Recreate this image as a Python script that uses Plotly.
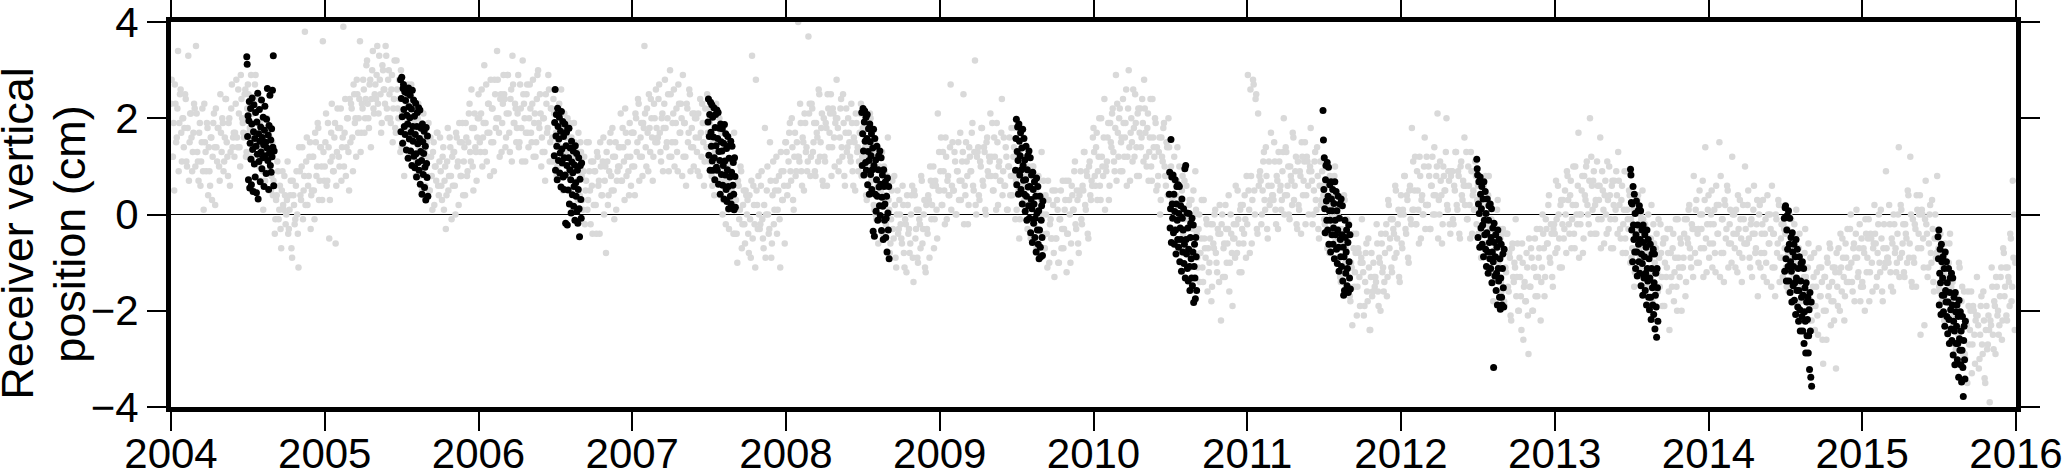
import plotly.graph_objects as go

# grey: full series, first pass (10 values per month), per year
grey_2004 = [2.8, 1.2, 0.5, 2.3, 1.6, 3.4, 1.9, 2.6, 1.1, 2.0,
             1.8, 2.4, 1.0, 3.3, 1.5, 2.1, 0.9, 1.7, 2.2, 3.5,
             1.3, 0.7, 1.9, 1.1, 2.2, 0.1, 1.5, 0.9, 1.8, 1.4,
             0.6, 1.6, 1.2, 2.1, 0.2, 1.4, 1.8, 1.0, 2.5, 1.3,
             1.9, 1.1, 2.4, 1.5, 0.8, 2.0, 1.3, 2.7, 1.6, 1.2,
             2.3, 1.6, 2.6, 1.4, 2.9, 2.0, 1.7, 2.5, 1.2, 2.2,
             2.5, 1.8, 2.9, 2.1, 1.6, 2.7, 2.2, 1.5, 2.4, 1.9,
             1.6, 0.9, 1.4, 0.7, 1.8, 1.1, 0.5, 1.3, 0.8, 0.4,
             0.6, -0.1, 0.4, 0.9, 0.1, -0.3, 0.5, 0.2, 0.8, -0.2,
             0.3, -0.4, 0.1, 0.7, -0.9, 0.4, -0.2, 0.6, 0.0, -1.1,
             0.9, 0.3, 1.4, 0.5, 3.8, 1.1, 0.2, 0.8, 1.5, 0.4,
             1.2, 0.5, 1.7, 0.8, 1.9, 0.3, 1.4, 1.0, 3.6, 0.7]
grey_2005 = [1.5, 0.6, 1.9, -0.5, 1.1, 2.3, 0.9, 1.6, -0.6, 1.3,
             1.8, 1.0, 2.2, 1.4, 3.9, 1.7, 0.8, 2.0, 1.3, 2.4,
             2.3, 1.6, 2.7, 1.9, 1.2, 2.5, 2.0, 3.6, 1.7, 2.2,
             2.6, 2.0, 3.1, 2.3, 1.8, 2.8, 2.4, 3.4, 2.1, 2.7,
             2.9, 2.3, 3.3, 2.5, 1.9, 3.0, 2.6, 3.5, 2.2, 2.8,
             2.5, 1.9, 2.9, 2.2, 3.2, 1.7, 2.6, 2.0, 2.4, 3.0,
             2.1, 1.5, 2.6, 1.8, 2.3, 1.3, 2.0, 2.7, 1.6, 2.2,
             1.7, 1.1, 2.0, 1.4, 0.8, 1.9, 1.2, 1.6, 0.6, 1.5,
             1.2, 0.5, 1.6, 0.8, 1.3, 0.2, 1.0, 1.7, 0.6, 1.1,
             0.9, 0.3, 1.4, 0.7, -0.3, 1.1, 0.5, 1.6, 0.8, 1.2,
             1.3, 0.6, 1.7, 1.0, 0.2, 1.5, 0.8, 1.9, 1.1, 0.4,
             1.6, 0.9, 2.1, 1.3, 2.6, 1.0, 1.8, 1.4, 0.7, 2.0]
grey_2006 = [2.0, 1.3, 2.6, 1.6, 3.1, 1.9, 1.1, 2.3, 1.7, 2.8,
             2.2, 1.5, 2.8, 1.8, 3.4, 2.0, 1.2, 2.5, 1.9, 2.9,
             2.4, 1.6, 2.9, 2.1, 1.3, 2.6, 3.3, 1.9, 2.3, 1.5,
             2.1, 1.4, 2.7, 1.8, 3.2, 2.3, 1.1, 2.5, 1.7, 2.0,
             2.2, 1.5, 2.8, 1.9, 1.2, 2.4, 3.0, 1.8, 2.1, 1.6,
             2.0, 1.3, 2.5, 1.7, 2.9, 1.1, 2.2, 1.6, 2.4, 1.9,
             1.7, 1.0, 2.2, 1.4, 2.6, 1.2, 1.9, 0.8, 1.6, 2.0,
             1.2, 0.5, 1.6, 0.9, 1.9, 0.6, 1.3, 0.3, 1.0, 1.5,
             0.8, 0.1, 1.2, 0.5, 1.5, 0.3, 0.9, -0.2, 0.6, 1.1,
             0.9, 0.2, 1.3, 0.6, -0.4, 1.0, 0.4, 1.6, 0.7, -0.8,
             1.1, 0.4, 1.5, 0.8, 1.8, 0.5, 1.2, 0.1, 0.9, 1.4,
             1.4, 0.7, 1.8, 1.1, 2.2, 0.8, 1.5, 0.4, 1.2, 1.7]
grey_2007 = [1.7, 1.0, 2.1, 1.3, 2.4, 0.7, 1.6, 1.2, 1.9, 3.5,
             1.4, 2.2, 0.9, 1.8, 2.4, 1.6, 1.2, 2.0, 2.6, 1.5,
             2.4, 1.7, 1.1, 2.1, 1.8, 2.8, 1.4, 2.0, 0.9, 3.0,
             1.2, 1.9, 2.6, 1.5, 2.2, 0.9, 2.3, 1.7, 2.0, 2.9,
             1.9, 1.2, 2.3, 1.5, 2.6, 0.9, 1.8, 1.4, 2.1, 1.6,
             1.3, 2.1, 0.8, 1.7, 2.3, 1.5, 1.1, 1.9, 2.5, 1.4,
             1.9, 1.2, 0.6, 1.6, 1.3, 2.3, 0.9, 1.5, 0.4, 1.7,
             0.0, 0.7, 1.4, 0.3, 1.0, -0.3, 1.1, 0.5, 0.8, 1.7,
             0.3, -0.4, 0.7, -0.1, 1.0, -0.7, 0.2, -0.2, 0.5, 0.0,
             -0.4, 0.4, -0.9, 3.3, 0.6, -0.2, 2.8, 0.2, 0.8, -0.3,
             0.6, -0.1, -0.7, 1.8, 0.0, 1.0, -0.4, 1.5, -0.9, 0.4,
             -0.2, 0.5, 1.2, 0.1, 0.8, -1.1, 0.9, 0.3, 0.6, 1.5]
grey_2008 = [1.3, 0.6, 1.7, 0.9, 2.0, 0.3, 1.2, 0.8, 1.5, 4.0,
             1.1, 1.9, 0.6, 1.5, 2.1, 1.3, 0.9, 3.7, 2.3, 1.2,
             2.2, 1.5, 0.9, 1.9, 1.6, 2.6, 1.2, 1.8, 0.7, 2.0,
             1.1, 1.8, 2.5, 1.4, 2.1, 0.8, 2.2, 1.6, 1.9, 2.8,
             1.8, 1.1, 2.2, 1.4, 2.5, 0.8, 1.7, 1.3, 2.0, 1.5,
             1.1, 1.9, 0.6, 1.5, 2.1, 1.3, 0.9, 1.7, 2.3, 1.2,
             1.7, 1.0, 0.4, 1.4, 1.1, 2.1, 0.7, 1.3, 0.2, 1.5,
             -0.1, 0.6, 1.3, 0.2, 0.9, -0.4, 1.0, 0.4, 0.7, 1.6,
             0.1, -0.6, 0.5, -0.3, 0.8, -0.9, 0.0, -0.4, 0.3, -0.2,
             -0.6, 0.2, -1.1, -0.2, 0.4, -0.4, -0.8, 0.0, 0.6, -1.4,
             0.4, -0.3, -0.9, 0.1, -0.2, 0.8, -0.6, 0.0, -1.1, 0.2,
             -0.4, 0.3, 1.0, -0.1, 0.6, -0.7, 0.7, 0.1, 2.1, 1.3]
grey_2009 = [0.9, 0.2, 1.3, 0.5, 1.6, -0.1, 0.8, 0.4, 2.7, 0.6,
             0.5, 1.3, 0.0, 0.9, 1.5, 0.7, 0.3, 1.1, 2.5, 0.6,
             1.5, 0.8, 0.2, 1.2, 0.9, 1.9, 0.5, 3.2, 0.0, 1.3,
             0.4, 1.1, 1.8, 0.7, 1.4, 0.1, 1.5, 0.9, 1.2, 2.1,
             1.2, 0.5, 1.6, 0.8, 1.9, 0.2, 1.1, 0.7, 2.4, 0.9,
             0.6, 1.4, 0.1, 1.0, 1.6, 0.8, 0.4, 1.2, 1.8, 0.7,
             1.2, 0.5, -0.1, 0.9, 0.6, 1.6, 0.2, 0.8, -0.3, 1.0,
             -0.4, 0.3, 1.0, -0.1, 0.6, -0.7, 0.7, 0.1, 0.4, 1.3,
             0.0, -0.7, 0.4, -0.4, 0.7, -1.0, -0.1, -0.5, 0.2, -1.3,
             -0.5, 0.3, -1.0, -0.1, 0.5, -0.3, -0.7, 0.1, 0.7, -0.4,
             0.7, 0.0, -0.6, 0.4, 0.1, 1.1, -0.3, 0.3, -0.8, 0.5,
             -0.1, 0.6, 1.3, 0.2, 0.9, -0.4, 1.0, 0.4, 0.7, 1.6]
grey_2010 = [1.3, 0.6, 1.7, 0.9, 2.0, 0.3, 1.2, 0.8, 2.4, 1.0,
             1.1, 1.9, 0.6, 1.5, 2.1, 1.3, 0.9, 2.9, 2.3, 1.2,
             2.2, 1.5, 0.9, 1.9, 1.6, 2.6, 1.2, 3.0, 0.7, 2.0,
             1.1, 1.8, 2.5, 1.4, 2.1, 0.8, 2.2, 1.6, 1.9, 2.8,
             1.7, 1.0, 2.1, 1.3, 2.4, 0.7, 1.6, 1.2, 1.9, 1.4,
             0.8, 1.6, 0.3, 1.2, 1.8, 1.0, 0.6, 1.4, 2.0, 0.9,
             1.0, 0.3, -0.3, 0.7, 0.4, 1.4, 0.0, 0.6, -0.5, 0.8,
             -0.8, -0.1, 0.6, -0.5, 0.2, -1.1, 0.3, -0.3, 0.0, 0.9,
             -0.4, -1.1, 0.0, -0.8, 0.3, -1.4, -0.5, -0.9, -0.2, -0.7,
             -1.0, -0.2, -1.5, -0.6, 0.0, -0.8, -1.2, -0.4, 0.2, -2.2,
             0.0, -0.7, -1.3, -0.3, -0.6, 0.4, -1.0, -0.4, -1.9, -0.2,
             -0.9, -0.2, 0.5, -0.6, 0.1, -1.2, 0.2, -0.4, -0.1, 0.8]
grey_2011 = [2.9, 0.1, 2.6, -0.6, 2.8, 0.5, 2.4, -0.3, 2.1, 0.8,
             0.7, 0.0, 1.1, 0.3, 1.4, -0.3, 0.6, 0.2, 1.7, 0.4,
             0.3, 1.1, -0.2, 0.7, 1.3, 0.5, 0.1, 0.9, 2.0, 0.4,
             1.3, 0.6, 0.0, 1.0, 0.7, 1.7, 0.3, 0.9, -0.2, 1.1,
             0.1, 0.8, 1.5, 0.4, 1.1, -0.2, 1.2, 0.6, 0.9, 1.8,
             0.7, 0.0, 1.1, 0.3, 1.4, -0.3, 0.6, 0.2, 0.9, 0.4,
             -0.2, 0.6, -0.7, 0.2, 0.8, 0.0, -0.4, 0.4, 1.0, -0.1,
             0.0, -0.7, -1.3, -0.3, -0.6, 0.4, -1.0, -0.4, -1.5, -0.2,
             -1.8, -1.1, -0.4, -1.5, -0.8, -2.1, -0.7, -1.3, -1.0, -0.1,
             -1.2, -1.9, -0.8, -1.6, -0.5, -2.4, -1.3, -1.7, -1.0, -1.5,
             -1.4, -0.6, -1.9, -1.0, -0.4, -1.2, -1.6, -0.8, -0.2, -1.3,
             0.2, -0.5, -1.1, -0.1, -0.4, 0.6, -0.8, -0.2, -1.3, 0.0]
grey_2012 = [-0.6, 0.1, 0.8, -0.3, 0.4, -0.9, 0.5, -0.1, 1.8, 1.1,
             0.5, -0.2, 0.9, 0.1, 1.2, -0.5, 0.4, 0.0, 1.6, 0.2,
             0.2, 1.0, -0.3, 0.6, 1.2, 0.4, 0.0, 0.8, 2.1, 0.3,
             1.1, 0.4, -0.2, 0.8, 0.5, 2.0, 0.1, 0.7, -0.4, 0.9,
             -0.1, 0.6, 1.3, 0.2, 0.9, -0.4, 1.0, 0.4, 0.7, 1.6,
             0.6, -0.1, 1.0, 0.2, 1.3, -0.4, 0.5, 0.1, 0.8, 0.3,
             -0.4, 0.4, -0.9, 0.0, 0.6, -0.2, -0.6, 0.2, 0.8, -0.3,
             -0.1, -0.8, -1.4, -0.4, -0.7, 0.3, -1.1, -0.5, -1.6, -0.3,
             -1.8, -1.1, -0.4, -1.5, -0.8, -2.1, -0.7, -1.3, -1.0, -0.1,
             -1.3, -2.0, -0.9, -1.7, -0.6, -2.6, -1.4, -1.8, -1.1, -2.9,
             -1.5, -0.7, -2.0, -1.1, -0.5, -1.3, -1.7, -0.9, -0.3, -1.4,
             0.0, -0.7, -1.3, -0.3, -0.6, 0.4, -1.0, -0.4, -1.5, -0.2]
grey_2013 = [-0.8, -0.1, 0.6, -0.5, 0.2, -1.1, 0.3, -0.3, 0.0, 0.9,
             0.3, -0.4, 0.7, -0.1, 1.0, -0.7, 0.2, -0.2, 1.7, 0.0,
             0.0, 0.8, -0.5, 0.4, 1.0, 0.2, -0.2, 2.0, 1.2, 0.1,
             0.9, 0.2, -0.4, 0.6, 0.3, 1.6, -0.1, 0.5, -0.6, 0.7,
             -0.4, 0.3, 1.0, -0.1, 0.6, -0.7, 0.7, 0.1, 0.4, 1.3,
             0.2, -0.5, 0.6, -0.2, 0.9, -0.8, 0.1, -0.3, 0.4, -0.1,
             -0.7, 0.1, -1.2, -0.3, 0.3, -0.5, -0.9, -0.1, 0.5, -0.6,
             -0.2, -0.9, -1.5, -0.5, -0.8, 0.2, -1.2, -0.6, -1.7, -0.4,
             -1.6, -0.9, -0.2, -1.3, -0.6, -1.9, -0.5, -1.1, -0.8, -2.4,
             -0.8, -1.5, -0.4, -1.2, -0.1, -2.0, -0.9, -1.3, -0.6, -1.1,
             -0.9, -0.1, -1.4, -0.5, 0.1, -0.7, -1.1, -0.3, 0.8, -0.8,
             0.3, -0.4, -1.0, 0.0, -0.3, 0.7, -0.7, 1.4, -1.2, 0.1]
grey_2014 = [-0.9, -0.2, 0.5, -0.6, 0.1, -1.2, 0.2, -0.4, 1.5, 0.8,
             -0.1, -0.8, 0.3, -0.5, 0.6, -1.1, -0.2, -0.6, 1.2, -0.4,
             -0.7, 0.1, -1.2, -0.3, 0.3, -0.5, -0.9, -0.1, 1.0, -0.6,
             0.2, -0.5, -1.1, -0.1, -0.4, 0.6, -0.8, -0.2, -1.7, 0.0,
             -1.1, -0.4, 0.3, -0.8, -0.1, -1.4, 0.0, -0.6, -0.3, 0.6,
             -0.4, -1.1, 0.0, -0.8, 0.3, -1.4, -0.5, -0.9, -0.2, -0.7,
             -1.1, -0.3, -1.6, -0.7, -0.1, -0.9, -1.3, -0.5, 0.1, -1.0,
             -0.7, -1.4, -2.0, -1.0, -1.3, -0.3, -1.7, -1.1, -2.2, -0.9,
             -2.2, -1.5, -0.8, -1.9, -1.2, -2.5, -1.1, -1.7, -1.4, -3.1,
             -1.3, -2.0, -0.9, -1.7, -0.6, -2.3, -1.4, -1.8, -1.1, -3.2,
             -1.5, -0.7, -2.0, -1.1, -0.5, -1.3, -1.7, -0.9, -0.3, -1.4,
             -0.3, -1.0, -1.6, -0.6, -0.9, 0.1, -1.3, -0.7, -1.8, -0.5]
grey_2015 = [-1.5, -0.8, -0.1, -1.2, -0.5, -1.8, -0.4, -1.0, -0.7, 0.2,
             -0.6, -1.3, -0.2, -1.0, 0.1, -1.6, -0.7, -1.1, 0.9, -0.9,
             -1.0, -0.2, -1.5, -0.6, 0.0, -0.8, -1.2, -0.4, 1.4, -0.9,
             0.1, -0.6, -1.2, -0.2, -0.5, 0.5, -0.9, 1.2, -1.4, -0.1,
             -1.0, -0.3, 0.4, -0.7, 0.0, -2.5, 0.1, -0.5, -2.3, 0.7,
             -0.4, -1.1, 0.0, -0.8, 0.3, -1.4, -0.5, -0.9, 0.8, -0.7,
             -1.6, -0.8, -2.1, -1.2, -0.6, -1.4, -1.8, -1.0, -0.4, -1.5,
             -1.4, -2.1, -2.7, -1.7, -2.0, -1.0, -2.4, -1.8, -2.9, -1.6,
             -3.0, -2.3, -1.6, -2.7, -2.0, -3.3, -1.9, -2.5, -2.2, -1.3,
             -2.3, -3.0, -1.9, -2.7, -1.6, -3.4, -2.4, -2.8, -2.1, -3.9,
             -2.3, -1.5, -2.8, -1.9, -1.3, -2.1, -2.5, -1.7, -1.1, -2.2,
             -0.8, -1.5, -2.1, -1.1, -1.4, -0.4, -1.8, 0.7, 0.0, -1.0]

# grey: second pass, the days in between
grey2_2004 = [2.3, 1.2, 1.9, 2.7, 1.5, 2.2, 0.9, 2.5, 1.7, 2.0,
              1.4, 2.5, 1.1, 1.8, 0.7, 2.1, 1.6, 1.3, 2.3, 1.0,
              2.1, 1.1, 1.7, 0.6, 1.5, 0.9, 2.3, 1.3, 1.9, 0.4,
              0.9, 1.6, 0.3, 1.9, 1.4, 2.2, 1.1, 1.8, 0.7, 1.7,
              2.0, 0.9, 1.6, 2.4, 1.2, 1.9, 0.6, 2.2, 1.4, 1.7,
              1.7, 2.8, 1.4, 2.1, 1.0, 2.4, 1.9, 1.6, 2.6, 1.3,
              2.7, 1.7, 2.3, 1.2, 2.1, 1.5, 2.9, 1.9, 2.5, 1.0,
              0.7, 1.4, 0.1, 1.7, 1.2, 2.0, 0.9, 1.6, 0.5, 1.5,
              0.7, -0.4, 0.3, 1.1, -0.1, 0.6, -0.7, 0.9, 0.1, 0.4,
              0.0, 1.1, -0.3, 0.4, -0.7, 0.7, 0.2, -0.1, 0.9, -0.4,
              1.4, 0.4, 1.0, -0.1, 0.8, 0.2, 1.6, 0.6, 1.2, -0.3,
              0.5, 1.2, -0.1, 1.5, 1.0, 1.8, 0.7, 1.4, 0.3, 1.3]
grey2_2005 = [1.0, 2.1, 0.7, 1.4, 0.3, 1.7, 1.2, 0.9, 1.9, 0.6,
              2.2, 1.2, 1.8, 0.7, 1.6, 1.0, 2.4, 1.4, 2.0, 0.5,
              1.5, 2.2, 0.9, 2.5, 2.0, 2.8, 1.7, 2.4, 1.3, 2.3,
              2.8, 1.7, 2.4, 3.2, 2.0, 2.7, 1.4, 3.0, 2.2, 2.5,
              2.4, 3.5, 2.1, 2.8, 1.7, 3.1, 2.6, 2.3, 3.3, 2.0,
              3.0, 2.0, 2.6, 1.5, 2.4, 1.8, 3.2, 2.2, 2.8, 1.3,
              1.4, 2.1, 0.8, 2.4, 1.9, 2.7, 1.6, 2.3, 1.2, 2.2,
              1.9, 0.8, 1.5, 2.3, 1.1, 1.8, 0.5, 2.1, 1.3, 1.6,
              0.8, 1.9, 0.5, 1.2, 0.1, 1.5, 1.0, 0.7, 1.7, 0.4,
              1.6, 0.6, 1.2, 0.1, 1.0, 0.4, 1.8, 0.8, 1.4, -0.1,
              0.6, 1.3, 0.0, 1.6, 1.1, 1.9, 0.8, 1.5, 0.4, 1.4,
              1.9, 0.8, 1.5, 2.3, 1.1, 1.8, 0.5, 2.1, 1.3, 1.6]
grey2_2006 = [2.5, 1.5, 2.1, 1.0, 1.9, 1.3, 2.7, 1.7, 2.3, 0.8,
              1.5, 2.2, 0.9, 2.5, 2.0, 2.8, 1.7, 2.4, 1.3, 2.3,
              2.5, 1.4, 2.1, 2.9, 1.7, 2.4, 1.1, 2.7, 1.9, 2.2,
              1.8, 2.9, 1.5, 2.2, 1.1, 2.5, 2.0, 1.7, 2.7, 1.4,
              2.7, 1.7, 2.3, 1.2, 2.1, 1.5, 2.9, 1.9, 2.5, 1.0,
              1.3, 2.0, 0.7, 2.3, 1.8, 2.6, 1.5, 2.2, 1.1, 2.1,
              1.9, 0.8, 1.5, 2.3, 1.1, 1.8, 0.5, 2.1, 1.3, 1.6,
              0.8, 1.9, 0.5, 1.2, 0.1, 1.5, 1.0, 0.7, 1.7, 0.4,
              1.3, 0.3, 0.9, -0.2, 0.7, 0.1, 1.5, 0.5, 1.1, -0.4,
              0.2, 0.9, -0.4, 1.2, 0.7, 1.5, 0.4, 1.1, 0.0, 1.0,
              1.3, 0.2, 0.9, 1.7, 0.5, 1.2, -0.1, 1.5, 0.7, 1.0,
              1.0, 2.1, 0.7, 1.4, 0.3, 1.7, 1.2, 0.9, 1.9, 0.6]
grey2_2007 = [1.0, 1.7, 0.4, 2.0, 1.5, 2.3, 1.2, 1.9, 0.8, 1.8,
              2.1, 1.0, 1.7, 2.5, 1.3, 2.0, 0.7, 2.3, 1.5, 1.8,
              1.6, 2.7, 1.3, 2.0, 0.9, 2.3, 1.8, 1.5, 2.5, 1.2,
              2.5, 1.5, 2.1, 1.0, 1.9, 1.3, 2.7, 1.7, 2.3, 0.8,
              1.2, 1.9, 0.6, 2.2, 1.7, 2.5, 1.4, 2.1, 1.0, 2.0,
              2.0, 0.9, 1.6, 2.4, 1.2, 1.9, 0.6, 2.2, 1.4, 1.7,
              1.1, 2.2, 0.8, 1.5, 0.4, 1.8, 1.3, 1.0, 2.0, 0.7,
              1.3, 0.3, 0.9, -0.2, 0.7, 0.1, 1.5, 0.5, 1.1, -0.4,
              -0.4, 0.3, -1.0, 0.6, 0.1, 0.9, -0.2, 0.5, -0.6, 0.4,
              0.3, -0.8, -0.1, 0.7, -0.5, 0.2, -1.1, 0.5, -0.3, 0.0,
              -0.2, 0.9, -0.5, 0.2, -0.9, 0.5, 0.0, -0.3, 0.7, -0.6,
              1.1, 0.1, 0.7, -0.4, 0.5, -0.1, 1.3, 0.3, 0.9, -0.6]
grey2_2008 = [1.5, 0.4, 1.1, 1.9, 0.7, 1.4, 0.1, 1.7, 0.9, 1.2,
              1.2, 2.3, 0.9, 1.6, 0.5, 1.9, 1.4, 1.1, 2.1, 0.8,
              2.3, 1.3, 1.9, 0.8, 1.7, 1.1, 2.5, 1.5, 2.1, 0.6,
              1.2, 1.9, 0.6, 2.2, 1.7, 2.5, 1.4, 2.1, 1.0, 2.0,
              2.0, 0.9, 1.6, 2.4, 1.2, 1.9, 0.6, 2.2, 1.4, 1.7,
              1.2, 2.3, 0.9, 1.6, 0.5, 1.9, 1.4, 1.1, 2.1, 0.8,
              1.8, 0.8, 1.4, 0.3, 1.2, 0.6, 2.0, 1.0, 1.6, 0.1,
              0.0, 0.7, -0.6, 1.0, 0.5, 1.3, 0.2, 0.9, -0.2, 0.8,
              0.3, -0.8, -0.1, 0.7, -0.5, 0.2, -1.1, 0.5, -0.3, 0.0,
              -0.5, 0.6, -0.8, -0.1, -1.2, 0.2, -0.3, -0.6, 0.4, -0.9,
              0.5, -0.5, 0.1, -1.0, -0.1, -0.7, 0.7, -0.3, 0.3, -1.2,
              -0.3, 0.4, -0.9, 0.7, 0.2, 1.0, -0.1, 0.6, -0.5, 0.5]
grey2_2009 = [0.5, 1.6, 0.2, 0.9, -0.2, 1.2, 0.7, 0.4, 1.4, 0.1,
              1.5, 0.5, 1.1, 0.0, 0.9, 0.3, 1.7, 0.7, 1.3, -0.2,
              0.4, 1.1, -0.2, 1.4, 0.9, 1.7, 0.6, 1.3, 0.2, 1.2,
              1.4, 0.3, 1.0, 1.8, 0.6, 1.3, 0.0, 1.6, 0.8, 1.1,
              0.8, 1.9, 0.5, 1.2, 0.1, 1.5, 1.0, 0.7, 1.7, 0.4,
              1.6, 0.6, 1.2, 0.1, 1.0, 0.4, 1.8, 0.8, 1.4, -0.1,
              0.1, 0.8, -0.5, 1.1, 0.6, 1.4, 0.3, 1.0, -0.1, 0.9,
              0.6, -0.5, 0.2, 1.0, -0.2, 0.5, -0.8, 0.8, 0.0, 0.3,
              -0.4, 0.7, -0.7, 0.0, -1.1, 0.3, -0.2, -0.5, 0.5, -0.8,
              0.5, -0.5, 0.1, -1.0, -0.1, -0.7, 0.7, -0.3, 0.3, -1.2,
              -0.4, 0.3, -1.0, 0.6, 0.1, 0.9, -0.2, 0.5, -0.6, 0.4,
              0.9, -0.2, 0.5, 1.3, 0.1, 0.8, -0.5, 1.1, 0.3, 0.6]
grey2_2010 = [1.8, 0.8, 1.4, 0.3, 1.2, 0.6, 2.0, 1.0, 1.6, 0.1,
              0.9, 1.6, 0.3, 1.9, 1.4, 2.2, 1.1, 1.8, 0.7, 1.7,
              2.0, 0.9, 1.6, 2.4, 1.2, 1.9, 0.6, 2.2, 1.4, 1.7,
              1.5, 2.6, 1.2, 1.9, 0.8, 2.2, 1.7, 1.4, 2.4, 1.1,
              2.2, 1.2, 1.8, 0.7, 1.6, 1.0, 2.4, 1.4, 2.0, 0.5,
              0.6, 1.3, 0.0, 1.6, 1.1, 1.9, 0.8, 1.5, 0.4, 1.4,
              0.8, -0.3, 0.4, 1.2, 0.0, 0.7, -0.6, 1.0, 0.2, 0.5,
              -0.4, 0.7, -0.7, 0.0, -1.1, 0.3, -0.2, -0.5, 0.5, -0.8,
              0.1, -0.9, -0.3, -1.4, -0.5, -1.1, 0.3, -0.7, -0.1, -1.6,
              -1.2, -0.5, -1.8, -0.2, -0.7, 0.1, -1.0, -0.3, -1.4, -0.4,
              -0.2, -1.3, -0.6, 0.2, -1.0, -0.3, -1.6, 0.0, -0.8, -0.5,
              -0.5, 0.6, -0.8, -0.1, -1.2, 0.2, -0.3, -0.6, 0.4, -0.9]
grey2_2011 = [-0.2, 0.5, -0.8, 0.8, 0.3, 2.7, 0.0, 2.5, -0.4, 0.6,
              0.9, -0.2, 0.5, 1.3, 0.1, 0.8, -0.5, 1.1, 0.3, 0.6,
              0.4, 1.5, 0.1, 0.8, -0.3, 1.1, 0.6, 0.3, 1.3, 0.0,
              1.4, 0.4, 1.0, -0.1, 0.8, 0.2, 1.6, 0.6, 1.2, -0.3,
              0.2, 0.9, -0.4, 1.2, 0.7, 1.5, 0.4, 1.1, 0.0, 1.0,
              0.9, -0.2, 0.5, 1.3, 0.1, 0.8, -0.5, 1.1, 0.3, 0.6,
              -0.1, 1.0, -0.4, 0.3, -0.8, 0.6, 0.1, -0.2, 0.8, -0.5,
              0.1, -0.9, -0.3, -1.4, -0.5, -1.1, 0.3, -0.7, -0.1, -1.6,
              -1.7, -1.0, -2.3, -0.7, -1.2, -0.4, -1.5, -0.8, -1.9, -0.9,
              -1.0, -2.1, -1.4, -0.6, -1.8, -1.1, -2.4, -0.8, -1.6, -1.3,
              -1.3, -0.2, -1.6, -0.9, -2.0, -0.6, -1.1, -1.4, -0.4, -1.7,
              0.3, -0.7, -0.1, -1.2, -0.3, -0.9, 0.5, -0.5, 0.1, -1.4]
grey2_2012 = [0.4, -0.7, 0.0, 0.8, -0.4, 0.3, -1.0, 0.6, -0.2, 0.1,
              0.1, 1.2, -0.2, 0.5, -0.6, 0.8, 0.3, 0.0, 1.0, -0.3,
              1.2, 0.2, 0.8, -0.3, 0.6, 0.0, 1.4, 0.4, 1.0, -0.5,
              0.0, 0.7, -0.6, 1.0, 0.5, 1.3, 0.2, 0.9, -0.2, 0.8,
              0.9, -0.2, 0.5, 1.3, 0.1, 0.8, -0.5, 1.1, 0.3, 0.6,
              0.2, 1.3, -0.1, 0.6, -0.5, 0.9, 0.4, 0.1, 1.1, -0.2,
              0.6, -0.4, 0.2, -0.9, 0.0, -0.6, 0.8, -0.2, 0.4, -1.1,
              -1.2, -0.5, -1.8, -0.2, -0.7, 0.1, -1.0, -0.3, -1.4, -0.4,
              -0.8, -1.9, -1.2, -0.4, -1.6, -0.9, -2.2, -0.6, -1.4, -1.1,
              -1.7, -0.6, -2.0, -1.3, -2.4, -1.0, -1.5, -1.8, -0.8, -2.1,
              -0.5, -1.5, -0.9, -2.0, -1.1, -1.7, -0.3, -1.3, -0.7, -2.2,
              -1.1, -0.4, -1.7, -0.1, -0.6, 0.2, -0.9, -0.2, -1.3, -0.3]
grey2_2013 = [-0.4, 0.7, -0.7, 0.0, -1.1, 0.3, -0.2, -0.5, 0.5, -0.8,
              0.8, -0.2, 0.4, -0.7, 0.2, -0.4, 1.0, 0.0, 0.6, -0.9,
              -0.2, 0.5, -0.8, 0.8, 0.3, 1.1, 0.0, 0.7, -0.4, 0.6,
              0.7, -0.4, 0.3, 1.1, -0.1, 0.6, -0.7, 0.9, 0.1, 0.4,
              0.0, 1.1, -0.3, 0.4, -0.7, 0.7, 0.2, -0.1, 0.9, -0.4,
              0.7, -0.3, 0.3, -0.8, 0.1, -0.5, 0.9, -0.1, 0.5, -1.0,
              -0.9, -0.2, -1.5, 0.1, -0.4, 0.4, -0.7, 0.0, -1.1, -0.1,
              -0.4, -1.5, -0.8, 0.0, -1.2, -0.5, -1.8, -0.2, -1.0, -0.7,
              -1.2, -0.1, -1.5, -0.8, -1.9, -0.5, -1.0, -1.3, -0.3, -1.6,
              -0.3, -1.3, -0.7, -1.8, -0.9, -1.5, -0.1, -1.1, -0.5, -2.0,
              -1.1, -0.4, -1.7, -0.1, -0.6, 0.2, -0.9, -0.2, -1.3, -0.3,
              0.1, -1.0, -0.3, 0.5, -0.7, 0.0, -1.3, 0.3, -0.5, -0.2]
grey2_2014 = [0.4, -0.6, 0.0, -1.1, -0.2, -0.8, 0.6, -0.4, 0.2, -1.3,
              -0.8, -0.1, -1.4, 0.2, -0.3, 0.5, -0.6, 0.1, -1.0, 0.0,
              0.0, -1.1, -0.4, 0.4, -0.8, -0.1, -1.4, 0.2, -0.6, -0.3,
              -0.6, 0.5, -0.9, -0.2, -1.3, 0.1, -0.4, -0.7, 0.3, -1.0,
              0.2, -0.8, -0.2, -1.3, -0.4, -1.0, 0.4, -0.6, 0.0, -1.5,
              -1.1, -0.4, -1.7, -0.1, -0.6, 0.2, -0.9, -0.2, -1.3, -0.3,
              -0.4, -1.5, -0.8, 0.0, -1.2, -0.5, -1.8, -0.2, -1.0, -0.7,
              -1.5, -0.4, -1.8, -1.1, -2.2, -0.8, -1.3, -1.6, -0.6, -1.9,
              -0.9, -1.9, -1.3, -2.4, -1.5, -2.1, -0.7, -1.7, -1.1, -2.6,
              -2.0, -1.3, -2.6, -1.0, -1.5, -0.7, -1.8, -1.1, -2.2, -1.2,
              -0.8, -1.9, -1.2, -0.4, -1.6, -0.9, -2.2, -0.6, -1.4, -1.1,
              -1.1, 0.0, -1.4, -0.7, -1.8, -0.4, -0.9, -1.2, -0.2, -1.5]
grey2_2015 = [-1.4, -0.7, -2.0, -0.4, -0.9, -0.1, -1.2, -0.5, -1.6, -0.6,
              -0.4, -1.5, -0.8, 0.0, -1.2, -0.5, -1.8, -0.2, -1.0, -0.7,
              -0.9, 0.2, -1.2, -0.5, -1.6, -0.2, -0.7, -1.0, 0.0, -1.3,
              0.2, -0.8, -0.2, -1.3, -0.4, -1.0, 0.4, -0.6, 0.0, -1.5,
              -0.9, -0.2, -1.5, 0.1, -0.4, 0.4, -0.7, 0.0, -1.1, -0.1,
              -0.2, -1.3, -0.6, 0.2, -1.0, -0.3, -1.6, 0.0, -0.8, -0.5,
              -1.5, -0.4, -1.8, -1.1, -2.2, -0.8, -1.3, -1.6, -0.6, -1.9,
              -1.3, -2.3, -1.7, -2.8, -1.9, -2.5, -1.1, -2.1, -1.5, -3.0,
              -2.9, -2.2, -3.5, -1.9, -2.4, -1.6, -2.7, -2.0, -3.1, -2.1,
              -2.1, -3.2, -2.5, -1.7, -2.9, -2.2, -3.5, -1.9, -2.7, -2.4,
              -2.2, -1.1, -2.5, -1.8, -2.9, -1.5, -2.0, -2.3, -1.3, -2.6,
              -0.7, -1.7, -1.1, -2.2, -1.3, -1.9, -0.5, -1.5, -0.9, -2.4]

# black: daily values in the summer window (from day 180 of each year)
summer_2004 = [3.28, 3.12, 1.62, 2.05, 0.72, 1.95, 2.35, 0.55, 1.48, 2.20, 1.15, 0.62, 1.88, 2.42,
               1.35, 0.48, 1.72, 2.28, 1.05, 1.58, 0.78, 2.12, 1.42, 0.45, 1.92, 1.25, 2.52, 0.32,
               1.68, 1.10, 2.18, 1.52, 0.68, 1.82, 1.30, 2.38, 0.95, 1.60, 1.18, 2.02, 1.45, 0.58,
               1.75, 2.25, 1.22, 1.50, 0.85, 1.98, 1.38, 2.62, 1.12, 1.65, 0.52, 1.85, 1.28, 2.48,
               1.02, 1.55, 0.88, 1.78, 1.20, 2.58, 1.40, 3.30, 0.60, 1.32]
summer_2005 = [2.80, 1.72, 2.41, 2.85, 2.03, 1.48, 2.62, 2.70, 2.18, 1.83, 2.55,
               1.66, 2.37, 2.60, 1.34, 2.06, 2.52, 1.88, 1.17, 2.63, 2.24, 1.57,
               2.01, 2.48, 1.32, 1.71, 2.19, 1.02, 2.58, 1.83, 1.52, 2.38, 1.21,
               2.04, 0.97, 1.66, 2.31, 1.26, 0.78, 1.83, 2.12, 1.47, 1.08, 2.22,
               0.92, 1.58, 2.17, 0.63, 1.31, 1.79, 1.12, 0.42, 1.88, 1.51, 0.83,
               1.27, 1.73, 0.56, 0.98, 1.42, 0.30, 1.81, 1.06, 0.77, 1.63, 0.38]
summer_2006 = [1.22, 1.91, 2.60, 0.92, 1.63, 2.08, 1.42, 0.72, 2.21, 1.83, 1.12,
               1.57, 2.02, 0.86, 1.28, 1.73, 0.57, 2.14, 1.36, 1.07, 1.93, 0.78,
               1.62, 0.52, 1.18, 1.88, 0.82, -0.18, 1.43, 1.71, 1.02, -0.22, 1.79,
               0.51, 1.18, 1.79, 0.22, 0.93, 1.38, 0.72, 0.03, 1.52, 1.09, 0.41,
               0.87, 1.32, 0.17, 0.58, 1.03, -0.12, 1.43, 0.66, 0.38, 1.27, 0.06,
               0.92, -0.18, 0.52, 1.18, 0.12, -0.46, 0.73, 1.02, 0.31, -0.08, 1.07]
summer_2007 = [1.92, 2.40, 1.23, 1.62, 2.08, 0.92, 2.33, 1.71, 1.42, 2.28, 1.11,
               2.02, 0.92, 1.61, 2.22, 1.18, 0.72, 1.81, 2.08, 1.43, 0.98, 2.17,
               0.92, 1.58, 2.12, 0.63, 1.31, 1.79, 1.12, 0.42, 1.88, 1.51, 0.83,
               1.32, 1.78, 0.61, 1.02, 1.48, 0.32, 1.87, 1.11, 0.82, 1.68, 0.52,
               1.37, 0.27, 0.93, 1.62, 0.58, 0.12, 1.17, 1.43, 0.78, 0.38, 1.52,
               0.22, 0.88, 1.42, 0.13, 0.61, 1.08, 0.42, 0.10, 1.18, 0.79, 0.15]
summer_2008 = [2.12, 1.02, 1.68, 2.20, 1.32, 0.82, 1.92, 2.15, 1.52, 1.08, 2.02,
               0.92, 1.58, 2.08, 0.62, 1.31, 1.78, 1.12, 0.42, 1.88, 1.51, 0.83,
               1.22, 1.68, 0.52, 0.93, 1.38, -0.35, 1.77, 1.02, -0.45, 1.58, 0.42,
               1.13, 0.07, 0.72, 1.42, 0.38, -0.12, 0.93, 1.22, 0.57, 0.18, 1.32,
               -0.02, 0.63, 1.18, -0.33, 0.36, 0.82, 0.17, -0.52, 0.93, 0.58, -0.12,
               0.22, 0.68, -0.48, -0.08, 0.38, -0.78, 0.76, 0.03, -0.32, 0.58, -0.92]
summer_2009 = [0.92, 1.58, 1.98, 0.62, 1.31, 1.82, 1.12, 0.42, 1.88, 1.52, 0.82,
               1.22, 1.70, 0.52, 0.93, 1.38, 0.22, 1.77, 1.02, 0.71, 1.58, 0.42,
               1.13, 0.07, 0.72, 1.42, 0.38, -0.12, 0.93, 1.22, 0.57, 0.18, 1.32,
               -0.08, 0.58, 1.18, -0.38, 0.31, 0.82, 0.12, -0.58, 0.88, 0.52, -0.18,
               0.22, 0.68, -0.48, -0.08, 0.38, -0.78, 0.76, 0.03, -0.32, 0.58, -0.62,
               0.08, -0.92, -0.32, 0.38, -0.68, -0.88, -0.12, 0.18, -0.48, -0.85, 0.28]
summer_2010 = [0.42, 0.88, -0.28, 0.12, 1.56, -0.58, 0.78, 0.22, -0.08, 0.82, -0.38,
               0.42, -0.62, 0.06, 0.72, -0.32, -0.82, 0.22, 0.58, -0.12, -0.52, 0.62,
               -0.68, 0.02, 0.58, -0.98, -0.28, 0.18, -0.52, -1.18, 0.32, -0.08, -0.78,
               -0.32, 0.12, -1.02, -0.62, 0.95, -1.32, 1.02, -0.52, -0.82, 0.03, -1.12,
               -0.28, -1.38, -0.72, 0.02, -1.08, -1.58, -0.48, -0.18, -0.92, -1.32, -0.08,
               -1.48, -0.78, -0.22, -1.83, -1.08, -0.62, -1.32, -1.75, -0.48, -0.88, -1.58]
summer_2011 = [2.16, 1.55, 0.52, 1.18, 0.12, -0.38, 0.72, 1.02, 0.28, -0.12, 1.08,
               -0.32, 0.38, 0.98, -0.62, 0.08, 0.62, -0.12, -0.78, 0.68, 0.32, -0.42,
               0.08, 0.52, -0.62, -0.28, 0.23, -0.92, 0.68, -0.12, -0.42, 0.48, -0.72,
               0.08, -1.02, -0.32, 0.38, -0.68, -1.18, -0.08, 0.22, -0.52, -0.88, 0.32,
               -1.08, -0.42, 0.18, -1.38, -0.68, -1.68, -0.88, -1.58, -0.12, -0.48, -1.22,
               -0.78, -0.32, -1.48, -1.12, -0.58, -1.62, -0.22, -0.98, -1.32, -0.42, -1.55]
summer_2012 = [1.15, 0.95, 0.82, -0.48, 0.22, 0.68, 0.02, -0.68, 0.78, 0.42, -0.28,
               0.12, 0.58, -0.62, -0.22, 0.32, -0.88, 0.68, -0.12, -0.42, 0.48, -0.72,
               0.02, -1.08, -0.38, 0.32, -0.78, -1.22, -0.12, 0.18, -0.58, -0.92, 0.22,
               -1.12, -0.48, 0.12, -1.42, -0.78, -0.28, -0.98, -3.18, -0.18, -0.58, -1.28,
               -0.88, -0.42, -1.58, -1.22, -0.68, -1.88, -0.32, -1.12, -1.38, -0.52, -1.72,
               -0.92, -1.97, -1.32, -0.62, -1.72, -1.88, -1.12, -0.82, -1.52, -1.92, -0.72]
summer_2013 = [0.94, 0.82, 0.25, -0.32, 0.22, -0.98, 0.58, -0.22, -0.52, 0.42, -0.78,
               0.02, -1.12, -0.42, 0.28, -0.78, -1.28, -0.22, 0.08, -0.62, -0.98, 0.18,
               -1.22, -0.52, 0.08, -1.48, -0.82, -0.32, -1.02, -1.68, -0.22, -0.58, -1.32,
               -0.88, -0.42, -1.58, -1.22, -0.68, -1.88, -0.32, -1.12, -1.38, -0.52, -1.72,
               -0.92, -1.98, -1.32, -0.62, -1.72, -2.18, -1.12, -0.82, -1.52, -1.88, -0.72,
               -2.08, -1.42, -0.82, -2.38, -1.68, -1.22, -1.92, -2.55, -1.12, -1.52, -2.22]
summer_2014 = [-0.08, -1.18, 0.14, 0.18, -0.92, -1.38, -0.32, -0.02, -0.72, -1.08, 0.08,
               -1.38, -0.62, -0.08, -1.62, -0.98, -0.48, -1.18, -1.82, -0.38, -0.78, -1.48,
               -1.08, -0.62, -1.78, -1.42, -0.88, -2.08, -0.52, -1.32, -1.58, -0.72, -1.92,
               -1.12, -2.22, -1.58, -0.88, -1.98, -2.42, -1.38, -1.02, -1.72, -2.12, -0.98,
               -2.42, -1.68, -1.12, -2.68, -2.02, -1.52, -2.22, -2.88, -1.42, -1.82, -2.52,
               -2.18, -1.72, -2.88, -2.52, -1.98, -3.22, -1.62, -2.42, -3.38, -1.82, -3.57]
summer_2015 = [-0.46, -0.92, -0.32, -1.88, -1.22, -0.72, -1.42, -2.08, -0.62, -0.98, -1.68,
               -1.32, -0.88, -2.02, -1.68, -1.12, -2.32, -0.78, -1.58, -1.82, -0.98, -2.12,
               -1.42, -2.48, -1.82, -1.12, -2.18, -2.68, -1.62, -1.32, -1.98, -2.38, -1.22,
               -2.62, -1.88, -1.32, -2.92, -2.22, -1.72, -2.42, -3.12, -1.62, -2.02, -2.68,
               -2.32, -1.88, -3.02, -2.68, -2.12, -3.38, -1.78, -2.58, -2.82, -2.02, -3.12,
               -2.42, -3.48, -2.82, -2.12, -3.18, -3.78, -2.62, -2.32, -3.02, -3.42, -2.22]

years = list(range(2004, 2016))
grey_by_year = [grey_2004, grey_2005, grey_2006, grey_2007, grey_2008, grey_2009,
                grey_2010, grey_2011, grey_2012, grey_2013, grey_2014, grey_2015]
grey2_by_year = [grey2_2004, grey2_2005, grey2_2006, grey2_2007, grey2_2008, grey2_2009,
                 grey2_2010, grey2_2011, grey2_2012, grey2_2013, grey2_2014, grey2_2015]
summer_by_year = [summer_2004, summer_2005, summer_2006, summer_2007, summer_2008, summer_2009,
                  summer_2010, summer_2011, summer_2012, summer_2013, summer_2014, summer_2015]
summer_start_day = 180
year_ticks = list(range(2004, 2017))
y_ticks = [-4, -2, 0, 2, 4]

gx, gy = [], []
for yr, vals, vals2 in zip(years, grey_by_year, grey2_by_year):
    n = len(vals)
    gx += [yr + (i + 0.5) / n for i in range(n)]
    gy += vals
    n2 = len(vals2)
    gx += [yr + i / n2 for i in range(n2)]
    gy += vals2

bx, by = [], []
for yr, vals in zip(years, summer_by_year):
    bx += [yr + (summer_start_day + i) / 365.25 for i in range(len(vals))]
    by += vals

FONT = "Liberation Sans, Arial, Helvetica, sans-serif"

fig = go.Figure()
fig.add_trace(go.Scatter(x=gx, y=gy, mode="markers", hoverinfo="skip",
                         marker=dict(color="#d9d9d9", size=6.5, line=dict(width=0))))
fig.add_trace(go.Scatter(x=bx, y=by, mode="markers", hoverinfo="skip",
                         marker=dict(color="black", size=7, line=dict(width=0))))

axis_common = dict(showline=True, linewidth=5, linecolor="black", mirror="allticks",
                   ticks="outside", ticklen=19, tickwidth=2, tickcolor="black",
                   showgrid=False, automargin=False, ticklabeloverflow="allow",
                   tickfont=dict(family=FONT, size=42, color="black"))

fig.update_xaxes(range=[2004, 2016], tickvals=year_ticks,
                 ticktext=[str(t) for t in year_ticks], zeroline=False,
                 ticklabelstandoff=-13, **axis_common)
fig.update_yaxes(range=[-4, 4], tickvals=y_ticks,
                 ticktext=[str(t).replace("-", "\u2212") for t in y_ticks],
                 zeroline=True, zerolinecolor="black", zerolinewidth=1, **axis_common)

# two-line rotated y label
for text, shift in [("Receiver vertical", -153), ("position (cm)", -101)]:
    fig.add_annotation(text=text, xref="paper", yref="paper", x=0, y=0.45,
                       xshift=shift, textangle=-90, showarrow=False,
                       xanchor="center", yanchor="middle",
                       font=dict(family=FONT, size=45, color="black"))

fig.update_layout(width=2067, height=475, showlegend=False,
                  margin=dict(l=171, r=51, t=22, b=68),
                  plot_bgcolor="white", paper_bgcolor="white")

# drop the default 8px page margin so the figure sits at the window corner
fig.write_html("out.html", config={"displayModeBar": False},
               post_script="document.body.style.margin = '0';")
